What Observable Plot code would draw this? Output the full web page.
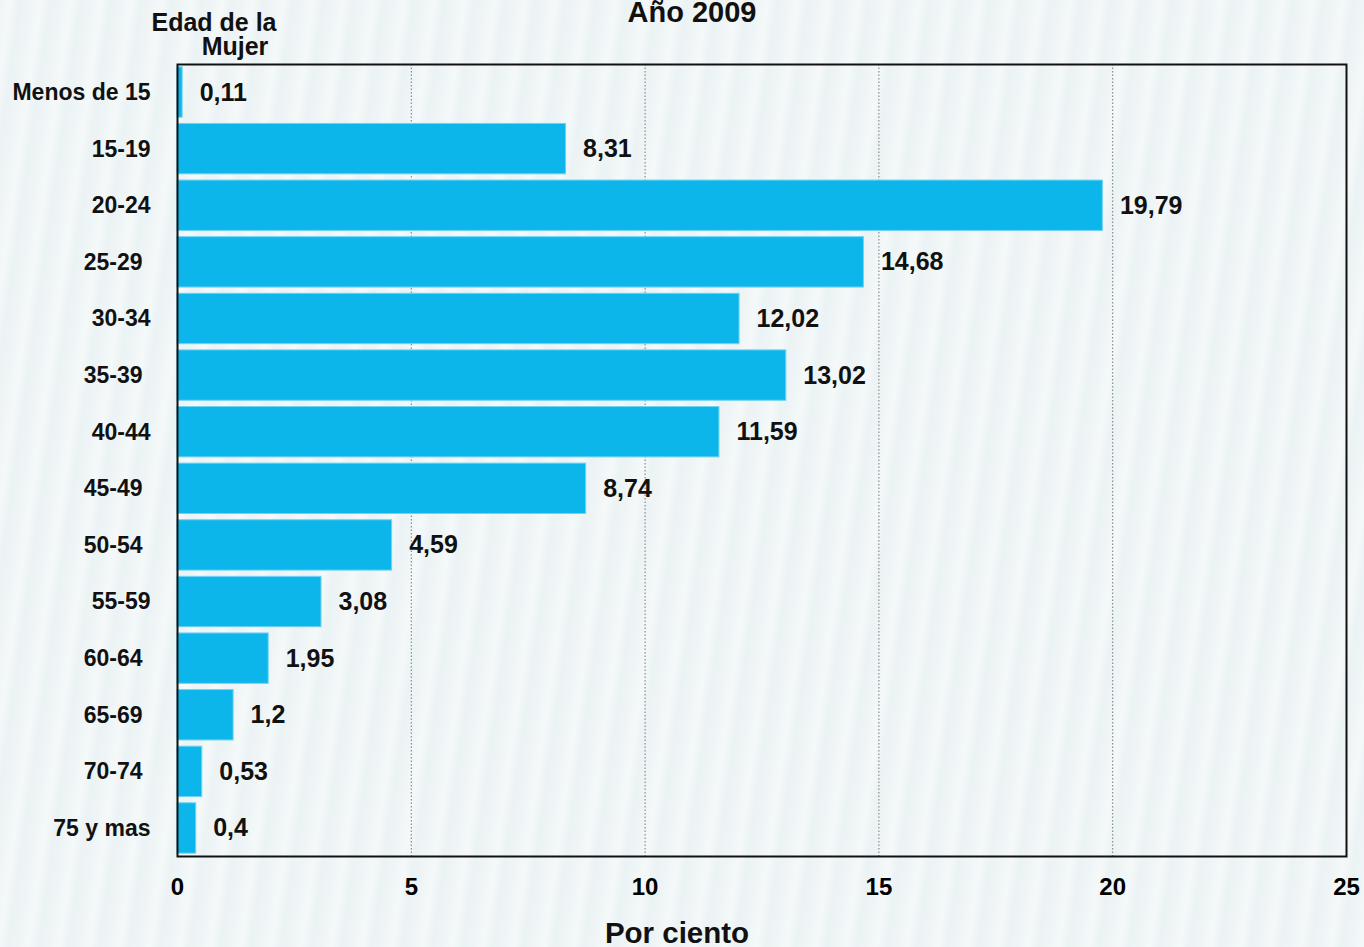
<!DOCTYPE html>
<html>
<head>
<meta charset="utf-8">
<script src="https://cdn.jsdelivr.net/npm/d3@7"></script>
<script src="https://cdn.jsdelivr.net/npm/@observablehq/plot@0.6"></script>
<style>
  html, body { margin: 0; padding: 0; }
  body {
    width: 1364px; height: 947px; overflow: hidden;
    background-color: #eff5f6;
    background-image: repeating-linear-gradient(98deg, rgba(255,255,255,0.0) 0px, rgba(255,255,255,0.35) 10px, rgba(225,236,238,0.25) 20px, rgba(255,255,255,0.0) 30px);
    font-family: "Liberation Sans", Arial, sans-serif;
  }
  #chart svg { display: block; background: transparent; }
</style>
</head>
<body>
<div id="chart"></div>
<script>
const categories = ["Menos de 15","15-19","20-24","25-29","30-34","35-39","40-44","45-49","50-54","55-59","60-64","65-69","70-74","75 y mas"];
const values = [0.11, 8.31, 19.79, 14.68, 12.02, 13.02, 11.59, 8.74, 4.59, 3.08, 1.95, 1.2, 0.53, 0.4];
const labels = ["0,11","8,31","19,79","14,68","12,02","13,02","11,59","8,74","4,59","3,08","1,95","1,2","0,53","0,4"];
// categories whose label sits slightly further left in the original
const indented = ["25-29","35-39","45-49","50-54","60-64","65-69","70-74"];
const xTicks = [0, 5, 10, 15, 20, 25];
const gridTicks = [5, 10, 15, 20];
const title = "Año 2009";
const xLabel = "Por ciento";
const yLabelLines = ["Edad de la", "Mujer"];

const data = categories.map((c, i) => ({cat: c, value: values[i], label: labels[i]}));
const catsA = categories.filter(c => !indented.includes(c));
const catsB = categories.filter(c => indented.includes(c));

const font = "'Liberation Sans', Arial, sans-serif";

const chart = Plot.plot({
  width: 1364,
  height: 947,
  marginLeft: 177,
  marginRight: 18,
  marginTop: 64,
  marginBottom: 91,
  style: {fontFamily: font, background: "transparent", color: "#000"},
  x: {domain: [0, 25], ticks: xTicks, label: null},
  y: {domain: categories, paddingInner: 0.11, paddingOuter: 0.05, round: false, label: null, axis: null},
  marks: [
    Plot.ruleX(gridTicks, {stroke: "#777", strokeDasharray: "1.5,2", strokeWidth: 1}),
    Plot.barX(data, {y: "cat", x: "value", fill: "#0db6ea", stroke: "#6fd3f3", strokeWidth: 1}),
    Plot.text(data, {y: "cat", x: "value", text: "label", textAnchor: "start", dx: 17, fontSize: 25, fontWeight: "bold", fill: "#111"}),
    Plot.frame({stroke: "#111", strokeWidth: 2}),
    Plot.text(catsA, {y: d => d, text: d => d, frameAnchor: "left", dx: -27, textAnchor: "end", fontSize: 23, fontWeight: "bold", fill: "#111"}),
    Plot.text(catsB, {y: d => d, text: d => d, frameAnchor: "left", dx: -35, textAnchor: "end", fontSize: 23, fontWeight: "bold", fill: "#111"}),
    Plot.axisX({ticks: xTicks, tickSize: 0, tickPadding: 21, fontSize: 24, fontWeight: "bold", label: null, tickFormat: d3.format("d")}),
    Plot.text([title], {frameAnchor: "top", lineAnchor: "middle", dx: -70, dy: -52, fontSize: 29, fontWeight: "bold", fill: "#111"}),
    Plot.text([xLabel], {frameAnchor: "bottom", lineAnchor: "middle", dx: -85, dy: 77, fontSize: 29.5, fontWeight: "bold", fill: "#111"}),
    Plot.text([yLabelLines[0]], {frameAnchor: "top-left", lineAnchor: "middle", dx: 36.5, dy: -42, textAnchor: "middle", fontSize: 25, fontWeight: "bold", fill: "#111"}),
    Plot.text([yLabelLines[1]], {frameAnchor: "top-left", lineAnchor: "middle", dx: 57.5, dy: -18, textAnchor: "middle", fontSize: 25, fontWeight: "bold", fill: "#111"})
  ]
});
document.getElementById("chart").appendChild(chart);
</script>
</body>
</html>
